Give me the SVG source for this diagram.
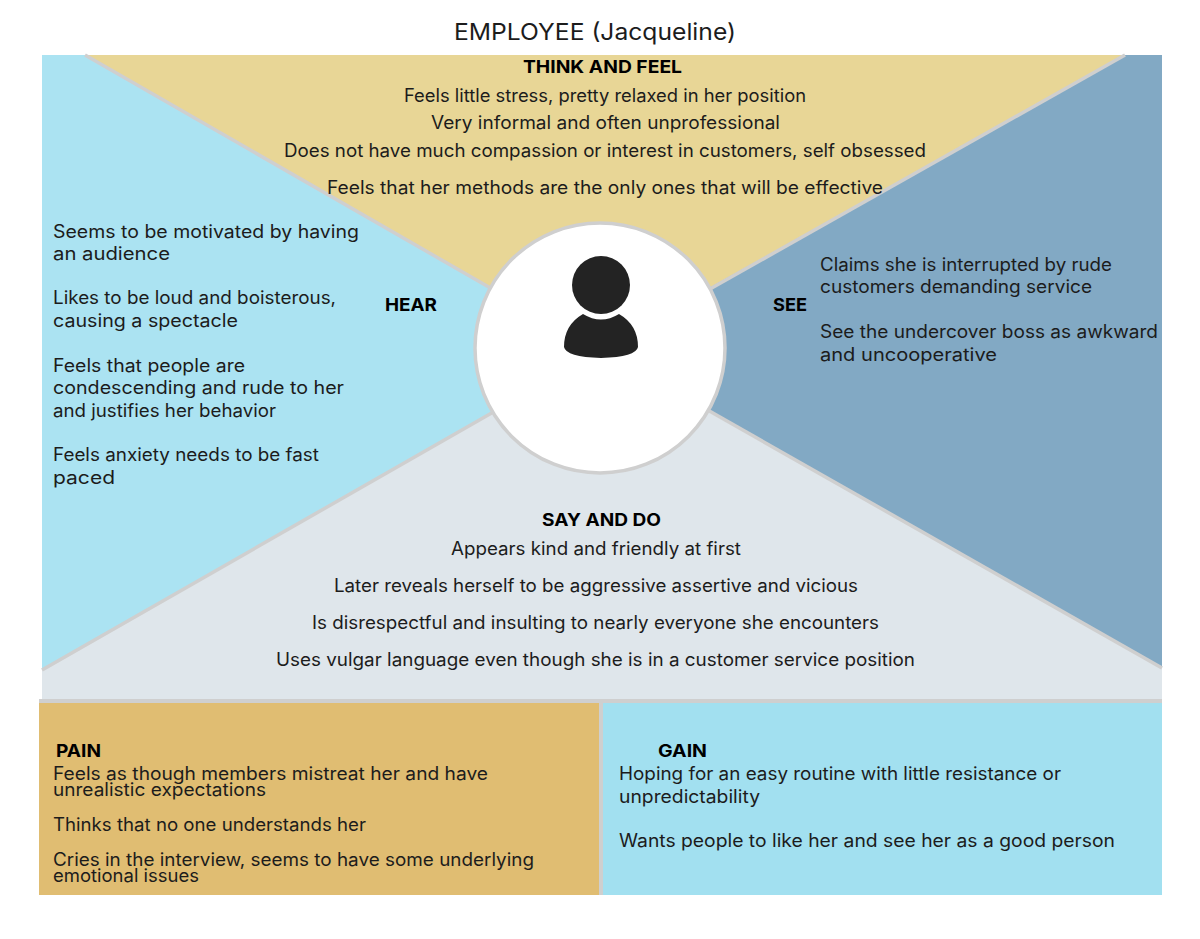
<svg xmlns="http://www.w3.org/2000/svg" width="1200" height="939" viewBox="0 0 1200 939">
<style>
text{font-family:Inter,"Liberation Sans",sans-serif;fill:#1c1c1c}
.b{font-size:18px}
.h{font-size:17.500px;font-weight:700;fill:#000}
.t{font-size:23px}
.sep{stroke:#cfcfcf;stroke-width:3.5;fill:none}
</style>
<rect width="1200" height="939" fill="#fff"/>
<g id="quadrants">
<polygon id="hear-bg" points="42,55 85,55 600,351 42,670" fill="#abe3f2"/>
<polygon id="think-bg" points="85,55 1125,55 600,351" fill="#e8d696"/>
<polygon id="see-bg" points="1125,55 1162,55 1162,667 600,349" fill="#82a9c4"/>
<polygon id="say-bg" points="42,670 600,351 1162,667 1162,700 42,700" fill="#dfe6eb"/>
</g>
<g id="connectors">
<line class="sep" x1="85" y1="55" x2="600" y2="351"/>
<line class="sep" x1="1125" y1="55" x2="600" y2="351"/>
<line class="sep" x1="42" y1="670" x2="600" y2="351"/>
<line class="sep" x1="1162" y1="668" x2="600" y2="349"/>
<rect x="39" y="699" width="1123" height="4" fill="#cfcfcf"/>
<rect x="599" y="703" width="4" height="192" fill="#cfcfcf"/>
</g>
<g id="title"><text class="t" x="454" y="40" textLength="282" lengthAdjust="spacingAndGlyphs">EMPLOYEE (Jacqueline)</text></g>
<g id="persona">
<circle cx="600" cy="348" r="125" fill="#fff" stroke="#cfcfcf" stroke-width="3.500"/>
<circle cx="601" cy="285" r="29" fill="#232323"/>
<path d="M583,314 Q601,325 619,314 Q638,325 638,347 Q636,357 601,358 Q566,357 564,347 Q564,325 583,314Z" fill="#232323"/>
</g>
<g id="think-and-feel">
<text class="h" x="523" y="73" textLength="159" lengthAdjust="spacingAndGlyphs">THINK AND FEEL</text>
<text class="b" x="404" y="101.500" textLength="402" lengthAdjust="spacingAndGlyphs">Feels little stress, pretty relaxed in her position</text>
<text class="b" x="431" y="129" textLength="349" lengthAdjust="spacingAndGlyphs">Very informal and often unprofessional</text>
<text class="b" x="284" y="157" textLength="642" lengthAdjust="spacingAndGlyphs">Does not have much compassion or interest in customers, self obsessed</text>
<text class="b" x="327" y="194" textLength="556" lengthAdjust="spacingAndGlyphs">Feels that her methods are the only ones that will be effective</text>
</g>
<g id="hear">
<text class="h" x="385" y="311" textLength="52" lengthAdjust="spacingAndGlyphs">HEAR</text>
<text class="b" x="53" y="238" textLength="306" lengthAdjust="spacingAndGlyphs">Seems to be motivated by having</text>
<text class="b" x="53" y="260" textLength="117" lengthAdjust="spacingAndGlyphs">an audience</text>
<text class="b" x="53" y="304" textLength="283" lengthAdjust="spacingAndGlyphs">Likes to be loud and boisterous,</text>
<text class="b" x="53" y="327" textLength="185" lengthAdjust="spacingAndGlyphs">causing a spectacle</text>
<text class="b" x="53" y="372" textLength="192" lengthAdjust="spacingAndGlyphs">Feels that people are</text>
<text class="b" x="53" y="394" textLength="291" lengthAdjust="spacingAndGlyphs">condescending and rude to her</text>
<text class="b" x="53" y="417" textLength="223" lengthAdjust="spacingAndGlyphs">and justifies her behavior</text>
<text class="b" x="53" y="461" textLength="266" lengthAdjust="spacingAndGlyphs">Feels anxiety needs to be fast</text>
<text class="b" x="53" y="484" textLength="62" lengthAdjust="spacingAndGlyphs">paced</text>
</g>
<g id="see">
<text class="h" x="773" y="311" textLength="34" lengthAdjust="spacingAndGlyphs">SEE</text>
<text class="b" x="820" y="271" textLength="292" lengthAdjust="spacingAndGlyphs">Claims she is interrupted by rude</text>
<text class="b" x="820" y="293" textLength="272" lengthAdjust="spacingAndGlyphs">customers demanding service</text>
<text class="b" x="820" y="338" textLength="338" lengthAdjust="spacingAndGlyphs">See the undercover boss as awkward</text>
<text class="b" x="820" y="361" textLength="177" lengthAdjust="spacingAndGlyphs">and uncooperative</text>
</g>
<g id="say-and-do">
<text class="h" x="542" y="526" textLength="119" lengthAdjust="spacingAndGlyphs">SAY AND DO</text>
<text class="b" x="451" y="555" textLength="290" lengthAdjust="spacingAndGlyphs">Appears kind and friendly at first</text>
<text class="b" x="334" y="592" textLength="524" lengthAdjust="spacingAndGlyphs">Later reveals herself to be aggressive assertive and vicious</text>
<text class="b" x="312" y="629" textLength="567" lengthAdjust="spacingAndGlyphs">Is disrespectful and insulting to nearly everyone she encounters</text>
<text class="b" x="276" y="666" textLength="639" lengthAdjust="spacingAndGlyphs">Uses vulgar language even though she is in a customer service position</text>
</g>
<g id="pain">
<rect x="39" y="703" width="560" height="192" fill="#e0bd72"/>
<text class="h" x="56" y="757" textLength="45" lengthAdjust="spacingAndGlyphs">PAIN</text>
<text class="b" x="53" y="780" textLength="435" lengthAdjust="spacingAndGlyphs">Feels as though members mistreat her and have</text>
<text class="b" x="53" y="796" textLength="213" lengthAdjust="spacingAndGlyphs">unrealistic expectations</text>
<text class="b" x="53" y="831" textLength="313" lengthAdjust="spacingAndGlyphs">Thinks that no one understands her</text>
<text class="b" x="53" y="866" textLength="481" lengthAdjust="spacingAndGlyphs">Cries in the interview, seems to have some underlying</text>
<text class="b" x="53" y="882" textLength="146" lengthAdjust="spacingAndGlyphs">emotional issues</text>
</g>
<g id="gain">
<rect x="603" y="703" width="559" height="192" fill="#a2e0f0"/>
<text class="h" x="658" y="757" textLength="49" lengthAdjust="spacingAndGlyphs">GAIN</text>
<text class="b" x="619" y="780" textLength="442" lengthAdjust="spacingAndGlyphs">Hoping for an easy routine with little resistance or</text>
<text class="b" x="619" y="803" textLength="141" lengthAdjust="spacingAndGlyphs">unpredictability</text>
<text class="b" x="619" y="847" textLength="496" lengthAdjust="spacingAndGlyphs">Wants people to like her and see her as a good person</text>
</g>
</svg>
